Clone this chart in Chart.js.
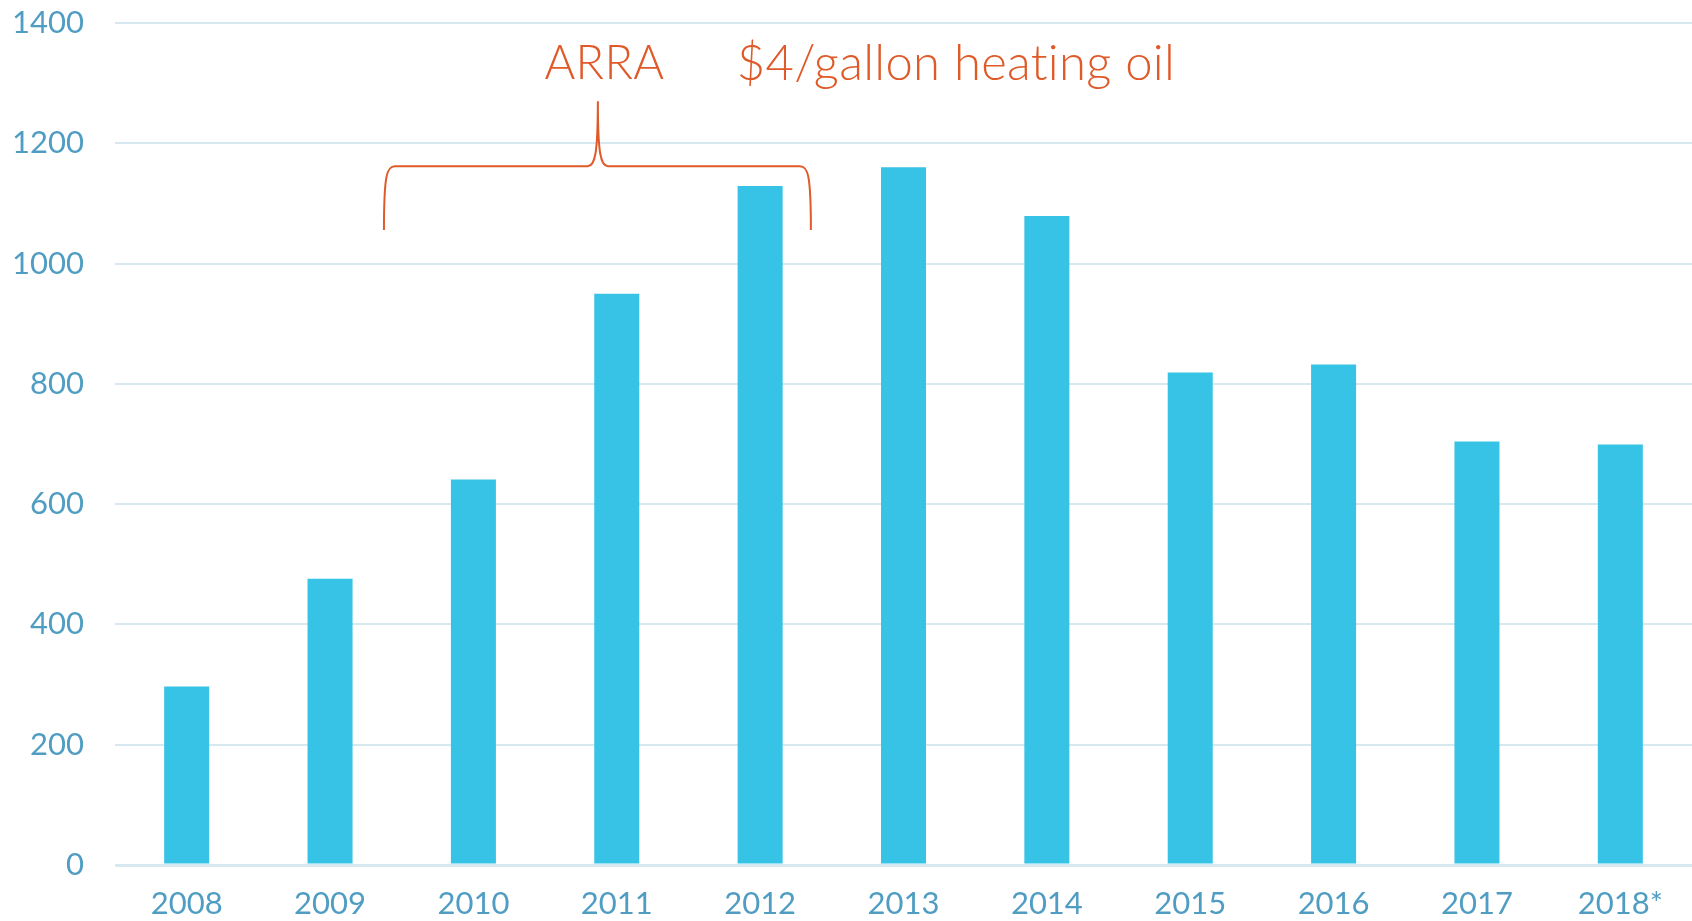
<!DOCTYPE html>
<html>
<head>
<meta charset="utf-8">
<script src="https://cdn.jsdelivr.net/npm/chart.js@4.4.1/dist/chart.umd.min.js"></script>
<style>
  html, body { margin: 0; padding: 0; background: #fff; }
  #wrap { width: 1692px; height: 921px; position: relative; }
</style>
</head>
<body>
<div id="wrap"><canvas id="barChart"></canvas></div>
<script>
const anos = ['2008', '2009', '2010', '2011', '2012', '2013', '2014', '2015', '2016', '2017', '2018*'];
const valores = [297, 476, 641, 950, 1129, 1160, 1079, 819, 832, 704, 699];
const yTicks = [0, 200, 400, 600, 800, 1000, 1200, 1400];

// chave (bracket) em unidades dos eixos: indice de categoria / valor
const chave = { esq: 1.376, meio: 2.868, dir: 4.354, base: 1056, linha: 1162, ponta: 1270 };
const textos = [
    { texto: 'ARRA', x: 2.914, y: 1332, align: 'center', size: 47 },
    { texto: '$4/gallon heating oil', x: 3.837, y: 1332, align: 'left', size: 49 }
];

const cores = {
    barra: '#36C3E5',
    grade: '#D6E9F1',
    texto: '#4F9DC2',
    laranja: '#DF5A28'
};

const fonte = 'Lato, "Open Sans", sans-serif';

const anotacoes = {
    id: 'anotacoes',
    afterDatasetsDraw(chart) {
        const { ctx, scales: { x, y } } = chart;
        const xl = x.getPixelForValue(chave.esq);
        const xm = x.getPixelForValue(chave.meio);
        const xr = x.getPixelForValue(chave.dir);
        const yb = y.getPixelForValue(chave.base);
        const yh = y.getPixelForValue(chave.linha);
        const yt = y.getPixelForValue(chave.ponta);

        ctx.save();
        ctx.strokeStyle = cores.laranja;
        ctx.lineWidth = 2;
        ctx.beginPath();
        ctx.moveTo(xl, yb);
        ctx.bezierCurveTo(xl, yh + 8, xl + 3, yh, xl + 11, yh);
        ctx.lineTo(xm - 10, yh);
        ctx.bezierCurveTo(xm - 3, yh, xm, yh - 12, xm, yt);
        ctx.bezierCurveTo(xm, yh - 12, xm + 3, yh, xm + 10, yh);
        ctx.lineTo(xr - 11, yh);
        ctx.bezierCurveTo(xr - 3, yh, xr, yh + 8, xr, yb);
        ctx.stroke();

        ctx.fillStyle = cores.laranja;
        ctx.textBaseline = 'middle';
        ctx.letterSpacing = '0.3px'; // evita a ligadura "ti"
        textos.forEach(t => {
            ctx.font = '300 ' + t.size + 'px ' + fonte;
            ctx.textAlign = t.align;
            ctx.fillText(t.texto, x.getPixelForValue(t.x), y.getPixelForValue(t.y));
        });
        ctx.restore();
    }
};

const grafico = document.getElementById('barChart');
new Chart(grafico, {
    type: 'bar',
    data: {
        labels: anos,
        datasets: [{
            data: valores,
            backgroundColor: cores.barra,
            borderWidth: 0,
            barPercentage: 0.314,
            categoryPercentage: 1
        }]
    },
    options: {
        responsive: true,
        maintainAspectRatio: false,
        animation: false,
        layout: { padding: { top: 23, right: 0, left: 0, bottom: 0 } },
        plugins: {
            legend: { display: false },
            tooltip: { enabled: false }
        },
        scales: {
            x: {
                grid: { display: false, drawTicks: false },
                border: { display: false },
                ticks: {
                    color: cores.texto,
                    font: { family: fonte, size: 31 },
                    padding: 20,
                    maxRotation: 0
                },
                afterFit(scale) {
                    scale.height = 56;
                    scale.paddingLeft = 0;
                    scale.paddingRight = 0;
                }
            },
            y: {
                min: 0,
                max: 1400,
                afterBuildTicks(scale) { scale.ticks = yTicks.map(v => ({ value: v })); },
                grid: {
                    color: cores.grade,
                    lineWidth: c => (c.tick && c.tick.value === 0 ? 3 : 2),
                    drawTicks: false
                },
                border: { display: false },
                ticks: {
                    color: cores.texto,
                    font: { family: fonte, size: 31 },
                    padding: 31,
                    callback: v => String(v)
                },
                afterFit(scale) {
                    scale.width = 115;
                    scale.paddingTop = 0;
                    scale.paddingBottom = 0;
                }
            }
        }
    },
    plugins: [anotacoes]
});
</script>
</body>
</html>
